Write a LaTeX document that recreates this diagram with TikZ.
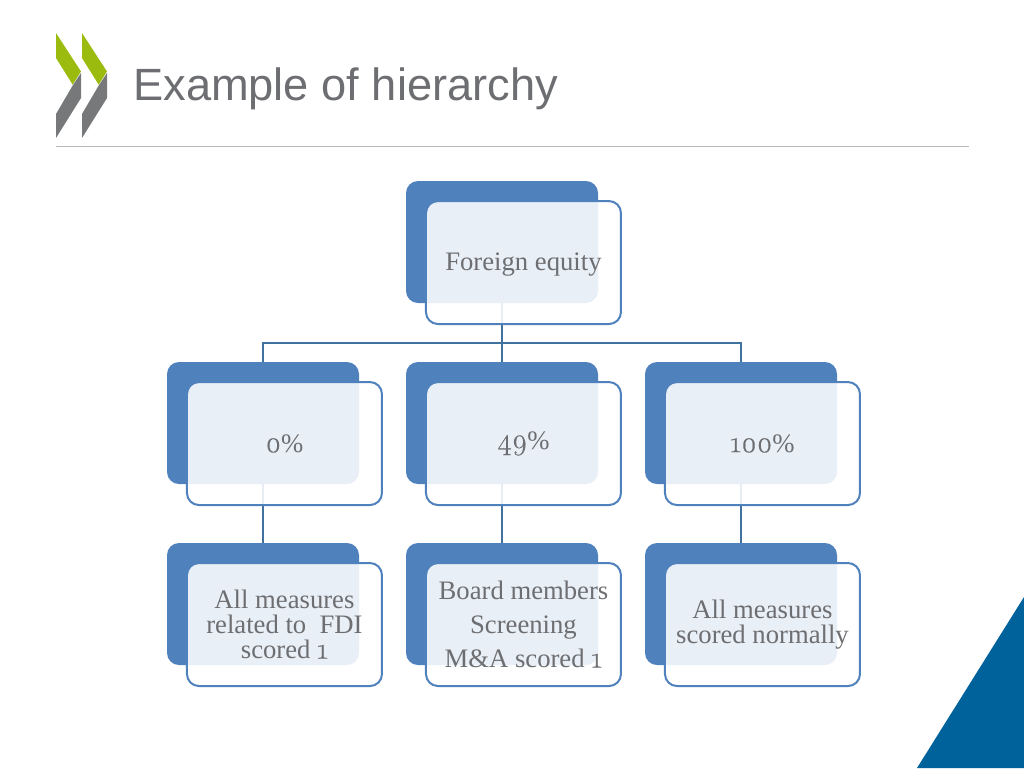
\documentclass[tikz,border=0pt]{standalone}
\usepackage{fontspec}
\setmainfont{Liberation Serif}
\setsansfont{Liberation Sans}
\newfontfamily\numfont[Numbers=OldStyle,Scale=1.12,FakeBold=0.4]{Latin Modern Roman}
\usetikzlibrary{positioning}
\definecolor{boxblue}{HTML}{4F81BD}
\definecolor{linkblue}{HTML}{41719F}
\definecolor{textgrey}{HTML}{6D6E71}
\definecolor{leafgreen}{HTML}{9BBB0F}
\definecolor{leafgrey}{HTML}{76787A}
\definecolor{cornerblue}{HTML}{00629B}
\newcommand{\oldnum}[1]{{\numfont #1}}

\begin{document}
\begin{tikzpicture}[x=0.75pt, y=-0.75pt, node distance={135.75pt},
    backbox/.style = {fill=boxblue, rounded corners=9pt, minimum width=144pt, minimum height=91.5pt, inner sep=0pt, outer sep=0pt},
    frontbox/.style = {draw=boxblue, line width=1.5pt, fill=white, fill opacity=0.88, text opacity=1, rounded corners=9pt, minimum width=146.25pt, minimum height=92.25pt, inner sep=0pt, outer sep=0pt, xshift=16.1pt, yshift=-15.4pt, text=textgrey, font=\fontsize{20}{18.8}\selectfont, align=center},
    link/.style = {draw=linkblue, line width=1.5pt}]
                \useasboundingbox (0,0) rectangle (1024,768);
                % logo and corner
                \fill[leafgreen] (56,33) -- (81,71.5) -- (72.7,84.7) -- (56,58) -- cycle;
                \fill[leafgrey] (81,73) -- (81,98) -- (56,138) -- (56,114) -- (72.7,85.5) -- cycle;
                \fill[leafgreen] (82,33) -- (107,71.5) -- (98.7,84.7) -- (82,58) -- cycle;
                \fill[leafgrey] (107,73) -- (107,98) -- (82,138) -- (82,114) -- (98.7,85.5) -- cycle;
                \fill[cornerblue] (1024,597) -- (1024,768) -- (917,768) -- cycle;
                \node[anchor=west, inner sep=0pt, text=textgrey, font=\sffamily\fontsize{33.9}{40}\selectfont] (title) at (133,89) {Example of hierarchy};
                \coordinate (r0) at (56,146);
                \coordinate (r1) at (969,146);
                \draw[draw=black!28, line width=0.7pt] (r0) -- (r1);
                % back boxes
                \node[backbox] (b0) at (502,242) {};
                \node[backbox] (b2) [below of=b0] {};
                \node[backbox] (b1) [left of=b2, node distance=179.25pt] {};
                \node[backbox] (b3) [right of=b2, node distance=179.25pt] {};
                \node[backbox] (b5) [below of=b2] {};
                \node[backbox] (b4) [below of=b1] {};
                \node[backbox] (b6) [below of=b3] {};
                % connectors
                \coordinate (j0) at (502,343);
                \draw[link] (b0.south) -- (b2.north);
                \draw[link] (b1.north) |- (j0);
                \draw[link] (b3.north) |- (j0);
                \draw[link] (b1.south) -- (b4.north);
                \draw[link] (b2.south) -- (b5.north);
                \draw[link] (b3.south) -- (b6.north);
                % front boxes
                \node[frontbox, text height=17pt] (f0) at (b0) {Foreign equity};
                \node[frontbox] (f1) at (b1) {\oldnum{0}\%};
                \node[frontbox] (f2) at (b2) {\oldnum{49}\%};
                \node[frontbox] (f3) at (b3) {\oldnum{100}\%};
                \node[frontbox] (f4) at (b4) {All measures\\related to~~FDI\\scored \oldnum{1}};
                \node[frontbox] (f5) at (b5) {Board members\\[6.7pt]Screening\\[6.7pt]M\&A scored \oldnum{1}};
                \node[frontbox] (f6) at (b6) {All measures\\scored normally};
            \end{tikzpicture}
\end{document}
